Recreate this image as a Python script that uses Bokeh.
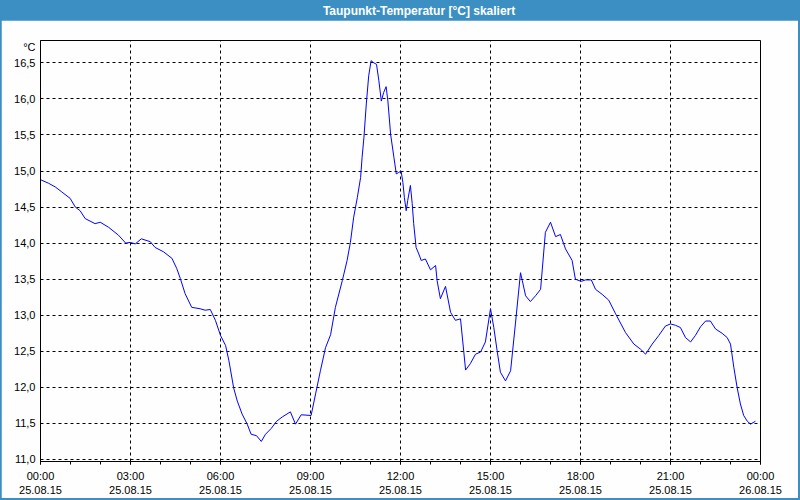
from bokeh.plotting import figure
from bokeh.models import Range1d, FixedTicker
from bokeh.layouts import column
from bokeh.core.properties import value
from bokeh.embed import file_html
from bokeh.resources import INLINE

title_text = "Taupunkt-Temperatur [°C] skaliert"
unit_text = "°C"

# hours since 25.08.15 00:00
hours = [0.00, 0.27, 0.49, 0.71, 0.99, 1.16, 1.32, 1.49, 1.82, 1.99, 2.27, 2.60, 2.84, 2.99,
         3.16, 3.36, 3.66, 3.82, 4.10, 4.38, 4.54, 4.66, 4.82, 5.04, 5.32, 5.49, 5.66, 5.83,
         6.00, 6.17, 6.28, 6.44, 6.56, 6.72, 6.89, 7.02, 7.20, 7.36, 7.50, 7.69, 7.87, 8.06,
         8.33, 8.50, 8.69, 9.02, 9.17, 9.33, 9.50, 9.67, 9.83, 10.06, 10.22, 10.33, 10.44,
         10.56, 10.67, 10.72, 10.78, 10.86, 10.94, 11.02, 11.11, 11.20, 11.28, 11.36, 11.44,
         11.52, 11.58, 11.67, 11.78, 11.86, 11.94, 12.02, 12.08, 12.13, 12.19, 12.24, 12.33,
         12.39, 12.44, 12.52, 12.61, 12.69, 12.83, 13.00, 13.17, 13.22, 13.33, 13.50, 13.67,
         13.83, 14.00, 14.17, 14.33, 14.50, 14.67, 14.83, 15.00, 15.11, 15.22, 15.33, 15.50,
         15.67, 15.83, 16.00, 16.06, 16.17, 16.33, 16.50, 16.67, 16.83, 17.00, 17.17, 17.33,
         17.50, 17.72, 17.83, 18.02, 18.17, 18.36, 18.50, 18.72, 18.94, 19.17, 19.50, 19.78,
         20.00, 20.17, 20.39, 20.61, 20.83, 21.00, 21.17, 21.33, 21.50, 21.67, 21.83, 22.00,
         22.17, 22.33, 22.50, 22.72, 22.89, 23.00, 23.11, 23.22, 23.33, 23.44, 23.56, 23.67,
         23.83]
dewpoint = [14.88, 14.83, 14.78, 14.71, 14.62, 14.50, 14.45, 14.34, 14.27, 14.29, 14.22, 14.11,
            14.00, 14.01, 13.99, 14.06, 14.02, 13.94, 13.88, 13.79, 13.65, 13.51, 13.30, 13.11,
            13.09, 13.07, 13.08, 12.93, 12.72, 12.58, 12.37, 11.99, 11.81, 11.63, 11.49, 11.35,
            11.33, 11.25, 11.35, 11.43, 11.53, 11.59, 11.66, 11.49, 11.62, 11.61, 11.91, 12.23,
            12.55, 12.73, 13.11, 13.48, 13.76, 14.01, 14.36, 14.63, 14.91, 15.19, 15.46, 15.93,
            16.32, 16.53, 16.50, 16.48, 16.25, 15.97, 16.09, 16.17, 15.97, 15.51, 15.19, 14.96,
            14.98, 15.00, 14.84, 14.63, 14.45, 14.59, 14.80, 14.55, 14.27, 13.94, 13.85, 13.76,
            13.78, 13.63, 13.69, 13.48, 13.23, 13.40, 13.04, 12.93, 12.95, 12.24, 12.33, 12.46,
            12.49, 12.63, 13.09, 12.83, 12.51, 12.21, 12.09, 12.23, 12.88, 13.59, 13.48, 13.27,
            13.19, 13.27, 13.36, 14.15, 14.29, 14.09, 14.12, 13.92, 13.76, 13.50, 13.47, 13.49,
            13.49, 13.36, 13.29, 13.21, 13.02, 12.76, 12.60, 12.53, 12.46, 12.60, 12.72, 12.85,
            12.88, 12.86, 12.83, 12.69, 12.63, 12.72, 12.84, 12.92, 12.92, 12.81, 12.75, 12.69,
            12.60, 12.28, 12.00, 11.77, 11.61, 11.53, 11.49, 11.53]

x_ticks = [0, 3, 6, 9, 12, 15, 18, 21, 24]
x_tick_times = ["00:00", "03:00", "06:00", "09:00", "12:00", "15:00", "18:00", "21:00", "00:00"]
x_tick_dates = ["25.08.15"] * 8 + ["26.08.15"]
x_minor = list(range(0, 25))
y_ticks = [11.0, 11.5, 12.0, 12.5, 13.0, 13.5, 14.0, 14.5, 15.0, 15.5, 16.0, 16.5]
y_tick_labels = ["11,0", "11,5", "12,0", "12,5", "13,0", "13,5", "14,0", "14,5",
                 "15,0", "15,5", "16,0", "16,5"]
y_unit_pos = 16.72  # where the unit caption sits on the value axis

BLUE_BAR = "#3c8fc3"
FONT = "Liberation Sans"

# title bar
tb = figure(width=800, height=20, x_range=(0, 800), y_range=(0, 20),
            toolbar_location=None, output_backend="svg",
            x_axis_type=None, y_axis_type=None, min_border=0)
tb.background_fill_color = BLUE_BAR
tb.border_fill_color = BLUE_BAR
tb.outline_line_color = None
tb.grid.visible = False
tb.text(x=[420], y=[10], text=[title_text], text_color="white", text_font=value(FONT),
        text_font_size="12px", text_font_style="bold", text_align="center",
        text_baseline="middle")

p = figure(width=797, height=478, toolbar_location=None, output_backend="svg",
           x_range=Range1d(0, 24), y_range=Range1d(10.972, 16.81),
           min_border_left=39, min_border_right=38, min_border_top=20, min_border_bottom=37,
           margin=(0, 2, 2, 1))
p.background_fill_color = "#fdfefd"
p.border_fill_color = "#fdfefd"
p.outline_line_color = "black"
p.outline_line_width = 1

p.line(hours, dewpoint, line_color="#0000ff", line_width=1)

xa = p.xaxis[0]
xa.ticker = FixedTicker(ticks=x_ticks, minor_ticks=x_minor)
xa.major_label_overrides = {t: f"{a}\n{b}" for t, a, b in zip(x_ticks, x_tick_times, x_tick_dates)}
xa.major_tick_out = 3
xa.major_tick_in = 0
xa.minor_tick_out = 3
xa.minor_tick_in = 0
xa.major_label_standoff = 5
xa.major_label_text_font = FONT
xa.major_label_text_font_size = "11px"
xa.major_label_text_color = "black"
xa.axis_line_color = "black"

ya = p.yaxis[0]
ya.ticker = FixedTicker(ticks=y_ticks + [y_unit_pos])
overrides = dict(zip(y_ticks, y_tick_labels))
overrides[y_unit_pos] = unit_text
ya.major_label_overrides = overrides
ya.major_tick_out = 0
ya.major_tick_in = 0
ya.minor_tick_out = 0
ya.minor_tick_in = 0
ya.major_label_standoff = 5
ya.major_label_text_font = FONT
ya.major_label_text_font_size = "11px"
ya.major_label_text_color = "black"
ya.axis_line_color = "black"

p.xgrid.ticker = FixedTicker(ticks=x_ticks[1:-1])
p.ygrid.ticker = FixedTicker(ticks=y_ticks)
for g in (p.xgrid[0], p.ygrid[0]):
    g.grid_line_color = "black"
    g.grid_line_dash = "3 3"
    g.grid_line_width = 1

layout = column(tb, p, styles={"background-color": BLUE_BAR}, spacing=0)
open("out.html", "w").write(file_html(layout, INLINE))
